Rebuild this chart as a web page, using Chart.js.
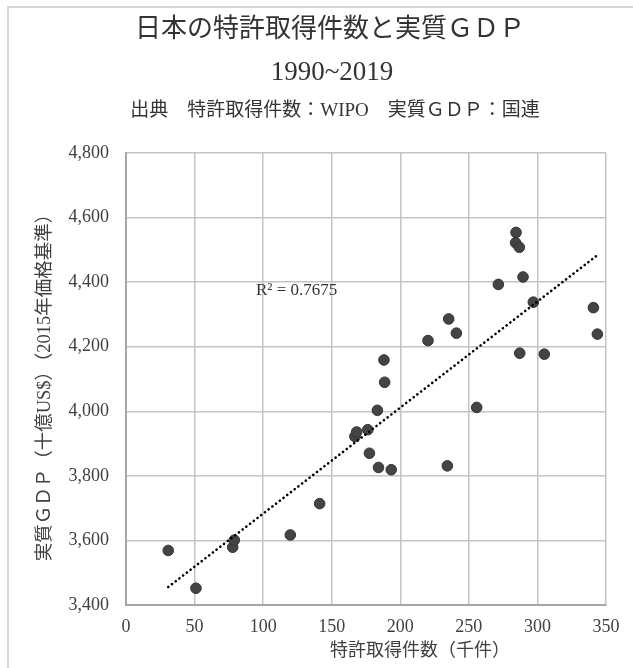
<!DOCTYPE html>
<html lang="ja">
<head>
<meta charset="utf-8">
<title>日本の特許取得件数と実質GDP 1990~2019</title>
<script src="https://cdn.jsdelivr.net/npm/chart.js@4.4.1/dist/chart.umd.min.js"></script>
<style>
  html, body { margin: 0; padding: 0; background: #ffffff; }
  #wrap { width: 633px; height: 668px; }
</style>
</head>
<body>
<div id="wrap"><canvas id="chart" width="633" height="668"></canvas></div>
<script>
// 特許取得件数（千件）, one value per year 1990–2019 (sorted by patents)
const patentCounts = [
  30.8, 51.0, 77.8, 79.0, 119.8, 141.2, 166.9, 168.2, 176.3, 177.5,
  183.3, 184.1, 188.1, 188.6, 193.4, 220.2, 234.3, 235.3, 240.9, 255.7,
  271.5, 284.1, 284.4, 286.8, 287.1, 289.5, 297.0, 305.0, 340.8, 343.7
];
// 実質GDP（十億US$, 2015年価格基準）, paired with patentCounts
const realGdp = [
  3569, 3452, 3579, 3601, 3617, 3714, 3922, 3936, 3943, 3870,
  4003, 3826, 4159, 4090, 3819, 4219, 3831, 4286, 4242, 4012,
  4393, 4522, 4554, 4508, 4180, 4416, 4338, 4177, 4321, 4239
];
const xTickValues = [0, 50, 100, 150, 200, 250, 300, 350];
const yTickValues = [3400, 3600, 3800, 4000, 4200, 4400, 4600, 4800];

const titleLines = ['日本の特許取得件数と実質ＧＤＰ', '1990~2019'];
const sourceLine = '出典　特許取得件数：WIPO　実質ＧＤＰ：国連';
const xAxisTitle = '特許取得件数（千件）';
const yAxisTitle = '実質ＧＤＰ（十億US$）（2015年価格基準）';
const r2Label = 'R² = 0.7675';

const SERIF = '"Liberation Serif", "Times New Roman", "Noto Sans CJK JP", serif';

// least-squares fit drawn as a dotted trendline across the data range
function linearFit(xs, ys) {
  const n = xs.length;
  const mx = xs.reduce((a, b) => a + b, 0) / n;
  const my = ys.reduce((a, b) => a + b, 0) / n;
  let sxy = 0, sxx = 0;
  for (let i = 0; i < n; i++) {
    sxy += (xs[i] - mx) * (ys[i] - my);
    sxx += (xs[i] - mx) * (xs[i] - mx);
  }
  const slope = sxy / sxx;
  return { slope, intercept: my - slope * mx };
}
const fit = linearFit(patentCounts, realGdp);
const xMin = Math.min(...patentCounts);
const xMax = Math.max(...patentCounts);
const trendPoints = [
  { x: xMin, y: fit.intercept + fit.slope * xMin },
  { x: xMax, y: fit.intercept + fit.slope * xMax }
];
const scatterPoints = patentCounts.map((x, i) => ({ x, y: realGdp[i] }));

// frame, titles, axis titles and the R² note
const decorations = {
  id: 'decorations',
  beforeDraw(chart) {
    const ctx = chart.ctx;
    ctx.save();
    ctx.fillStyle = '#ffffff';
    ctx.fillRect(0, 0, chart.width, chart.height);
    ctx.strokeStyle = '#d6d6d6';
    ctx.lineWidth = 2;
    ctx.beginPath();
    ctx.moveTo(8, chart.height);
    ctx.lineTo(8, 7);
    ctx.lineTo(chart.width, 7);
    ctx.stroke();
    ctx.restore();
  },
  afterDraw(chart) {
    const ctx = chart.ctx;
    const area = chart.chartArea;
    ctx.save();
    ctx.textAlign = 'center';
    ctx.textBaseline = 'middle';
    ctx.fillStyle = '#333333';
    ctx.font = '26px ' + SERIF;
    ctx.fillText(titleLines[0], 330, 30);
    ctx.font = '27px ' + SERIF;
    ctx.fillText(titleLines[1], 332, 73);
    ctx.font = '19px ' + SERIF;
    ctx.fillText(sourceLine, 335, 111);

    ctx.fillStyle = '#404040';
    ctx.font = '18px ' + SERIF;
    ctx.fillText(xAxisTitle, 420, 651);

    ctx.save();
    ctx.translate(45, (area.top + area.bottom) / 2 + 4);
    ctx.rotate(-Math.PI / 2);
    ctx.font = '18.5px ' + SERIF;
    ctx.fillText(yAxisTitle, 0, 0);
    ctx.restore();

    ctx.textAlign = 'left';
    ctx.fillStyle = '#333333';
    ctx.font = '17px ' + SERIF;
    ctx.fillText(r2Label, area.left + 130, area.top + 138);
    ctx.restore();
  }
};

new Chart(document.getElementById('chart'), {
  type: 'scatter',
  data: {
    datasets: [
      {
        type: 'line',
        label: 'trend',
        data: trendPoints,
        borderColor: '#000000',
        borderWidth: 2.6,
        borderDash: [0.1, 4.6],
        borderCapStyle: 'round',
        pointRadius: 0,
        fill: false,
        order: 0
      },
      {
        label: '実質GDP',
        data: scatterPoints,
        backgroundColor: '#444444',
        borderColor: '#333333',
        borderWidth: 1,
        pointRadius: 5.3,
        pointHoverRadius: 5.3,
        order: 1
      }
    ]
  },
  options: {
    responsive: false,
    animation: false,
    events: [],
    layout: { padding: { left: 0, top: 153, right: 27, bottom: 0 } },
    plugins: {
      legend: { display: false },
      tooltip: { enabled: false },
      title: { display: false }
    },
    scales: {
      x: {
        type: 'linear',
        min: xTickValues[0],
        max: xTickValues[xTickValues.length - 1],
        afterBuildTicks(scale) { scale.ticks = xTickValues.map(v => ({ value: v })); },
        afterFit(scale) { scale.height = 63; },
        ticks: {
          padding: 11,
          color: '#404040',
          font: { family: SERIF, size: 18 },
          callback: v => String(v)
        },
        grid: { color: '#c4c4c4', lineWidth: 1.5, drawTicks: false },
        border: { color: '#a6a6a6', width: 2 }
      },
      y: {
        type: 'linear',
        min: yTickValues[0],
        max: yTickValues[yTickValues.length - 1],
        afterBuildTicks(scale) { scale.ticks = yTickValues.map(v => ({ value: v })); },
        afterFit(scale) { scale.width = 126; },
        ticks: {
          padding: 17,
          color: '#404040',
          font: { family: SERIF, size: 18 },
          callback: v => Number(v).toLocaleString('en-US')
        },
        grid: { color: '#c4c4c4', lineWidth: 1.5, drawTicks: false },
        border: { color: '#a6a6a6', width: 2 }
      }
    }
  },
  plugins: [decorations]
});
</script>
</body>
</html>
